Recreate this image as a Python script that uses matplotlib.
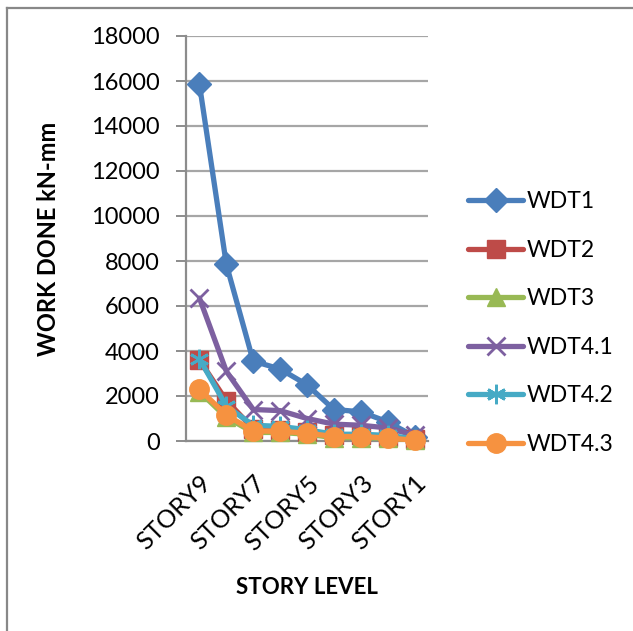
import matplotlib
matplotlib.use("Agg")
import matplotlib.pyplot as plt
from matplotlib.lines import Line2D

plt.rcParams['font.family'] = ['Lato', 'DejaVu Sans']

stories = ["STORY9", "STORY8", "STORY7", "STORY6", "STORY5",
           "STORY4", "STORY3", "STORY2", "STORY1"]
series_names = ["WDT1", "WDT2", "WDT3", "WDT4.1", "WDT4.2", "WDT4.3"]
wdt1 = [15850, 7850, 3550, 3200, 2500, 1400, 1300, 850, 200]
wdt2 = [3600, 1800, 550, 500, 420, 250, 250, 200, 100]
wdt3 = [2200, 1050, 380, 380, 300, 150, 150, 120, 50]
wdt41 = [6350, 3100, 1400, 1350, 1000, 750, 700, 580, 250]
wdt42 = [3650, 1550, 700, 650, 500, 300, 300, 250, 100]
wdt43 = [2300, 1150, 450, 430, 350, 200, 200, 130, 40]
y_ticks = [0, 2000, 4000, 6000, 8000, 10000, 12000, 14000, 16000, 18000]

colors = ["#4A7EBB", "#BE4B48", "#98B954", "#7D60A0", "#46AAC5", "#F69240"]
markers = ["D", "s", "^", "x", (6, 2, 0), "o"]
msizes = [12, 13, 13, 13, 14, 14]
values = [wdt1, wdt2, wdt3, wdt41, wdt42, wdt43]

fig = plt.figure(figsize=(6.33, 6.31), dpi=100)
ax = fig.add_axes([186 / 633, 1 - 441 / 631, 242 / 633, 405 / 631])

x = list(range(len(stories)))
handles = []
for name, vals, c, m, ms in zip(series_names, values, colors, markers, msizes):
    line_kw = dict(color=c, lw=3.8, marker=m, markersize=ms,
                   markerfacecolor=c, markeredgecolor=c,
                   markeredgewidth=2.0 if m in ("x", (6, 2, 0)) else 1.0,
                   solid_capstyle="round", solid_joinstyle="round")
    ax.plot(x, vals, **line_kw, clip_on=False, zorder=3)
    handles.append(Line2D([0], [0], label=name, **line_kw))

ax.set_xlim(-0.5, len(stories) - 0.5)
ax.set_ylim(0, 18000)
ax.set_yticks(y_ticks)
ax.set_yticklabels([str(v) for v in y_ticks], fontsize=17)
ax.yaxis.grid(True, color="#A6A6A6", lw=1.6)
ax.set_axisbelow(True)

ax.set_xticks(x[::2])
ax.set_xticklabels(stories[::2], rotation=45, ha="right", va="top",
                   rotation_mode="anchor", fontsize=18)
ax.tick_params(axis="x", length=0, pad=22)
ax.tick_params(axis="y", length=7, width=1.4, color="#8C8C8C", pad=12)

for side in ("top", "right"):
    ax.spines[side].set_visible(False)
for side in ("left", "bottom"):
    ax.spines[side].set_color("#8C8C8C")
    ax.spines[side].set_linewidth(1.6)

fig.text(48 / 633, 1 - 239 / 631, "WORK DONE kN-mm", fontsize=17,
         fontweight="bold", rotation=90, ha="center", va="center")
fig.text(307 / 633, 1 - 587 / 631, "STORY LEVEL", fontsize=16,
         fontweight="bold", ha="center", va="center")

leg = fig.legend(handles=handles, loc="upper left",
                 bbox_to_anchor=(459 / 633, 1 - 182 / 631), frameon=False,
                 fontsize=16.5, handlelength=2.4, handletextpad=0.15,
                 labelspacing=1.2, borderaxespad=0)

# outer chart frame
fig.add_artist(Line2D([7 / 633, 1], [1 - 7.5 / 631, 1 - 7.5 / 631],
                      transform=fig.transFigure, color="#888888", lw=1.6))
fig.add_artist(Line2D([7 / 633, 7 / 633], [0, 1 - 7.5 / 631],
                      transform=fig.transFigure, color="#888888", lw=1.6))

fig.savefig("out.png", dpi=100)
